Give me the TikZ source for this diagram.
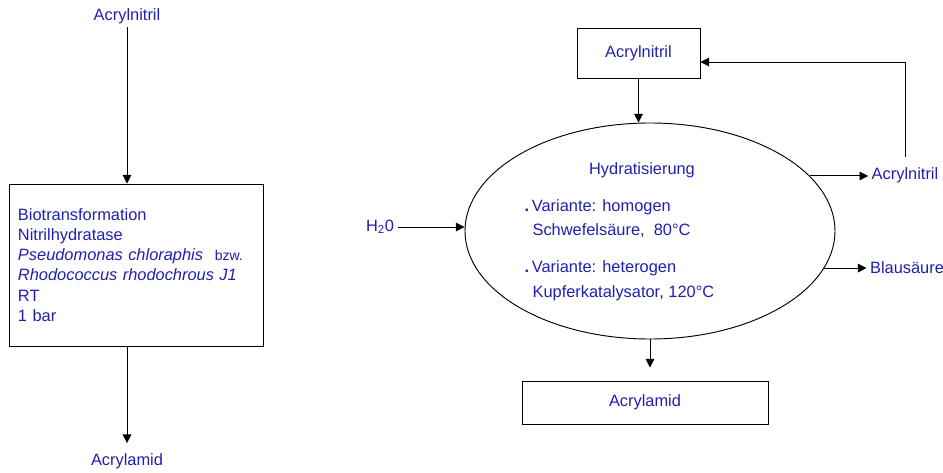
\documentclass[tikz,border=0pt]{standalone}
\usepackage{fontspec}
\setmainfont{Liberation Sans}
\usetikzlibrary{arrows.meta,shapes.geometric}
\definecolor{txtblue}{RGB}{32,32,176}

\begin{document}
\begin{tikzpicture}[x=0.03cm, y=-0.03cm, font=\fontsize{14}{17}\selectfont,
		lbl/.style={text=txtblue, inner sep=0.1cm},
		kasten/.style={draw, line width=0.8pt, text=txtblue},
		pfeil/.style={-{Triangle[length=0.26cm, width=0.26cm]}, line width=0.8pt}]
			%%%%% START %%%%%
			
			\useasboundingbox (0,0) rectangle (943,473);
			
			% Biotransformation
			\node[lbl] (lin) at (127,16) {Acrylnitril};
			\node[kasten, minimum width=7.62cm, minimum height=4.86cm, inner xsep=0.27cm, text width=7.08cm, align=left, font=\fontsize{14}{17.3}\selectfont] (bio) at (136,265) {Biotransformation\\ Nitrilhydratase\\ \textit{Pseudomonas chloraphis}\hspace{0.35cm}{\fontsize{12}{17}\selectfont bzw.}\\ \textit{Rhodococcus rhodochrous J1}\\ RT\\ 1 bar};
			\node[lbl] (lam) at (127,461) {Acrylamid};
			
			\draw[pfeil] (lin) -- (lin |- bio.north);
			\draw[pfeil, shorten >=0.2cm] (bio.south -| lam) -- (lam);
			
			% Hydratisierung
			\node[kasten, minimum width=3.69cm, minimum height=1.5cm] (atop) at (638.5,53) {Acrylnitril};
			\node[draw, ellipse, line width=0.8pt, minimum width=11.1cm, minimum height=6.48cm] (hyd) at (650,231) {};
			\node[kasten, minimum width=7.38cm, minimum height=1.29cm] (aml) at (645,402.5) {Acrylamid};
			
			\node[lbl] (hy) at (642,170) {Hydratisierung};
			\node[lbl, anchor=west] (v1) at (521,207) {\textbf{.}\,Variante: homogen};
			\node[lbl, anchor=west] (s1) at (529,231) {Schwefelsäure,\ \ 80°C};
			\node[lbl, anchor=west] (v2) at (521,268) {\textbf{.}\,Variante: heterogen};
			\node[lbl, anchor=west] (s2) at (529,293) {Kupferkatalysator, 120°C};
			
			\node[lbl] (wasser) at (380,227) {H\textsubscript{2}0};
			\node[lbl] (anr) at (905,175) {Acrylnitril};
			\node[lbl] (bla) at (907,268) {Blausäure};
			
			\draw[pfeil] (atop) -- (atop |- hyd.north);
			\draw[pfeil] (wasser) -- (wasser -| hyd.west);
			\draw[pfeil] (hyd.19.5) -- (hyd.19.5 -| anr.west);
			\draw[pfeil] (hyd.-12) -- (hyd.-12 -| bla.west);
			\draw[pfeil, shorten <=0.2cm] (anr.north) |- ([yshift=-0.27cm]atop.east);
			\draw[pfeil, shorten >=0.39cm] (hyd.south) -- (hyd.south |- aml.north);
			
			%%%%% END %%%%%
\end{tikzpicture}
\end{document}
